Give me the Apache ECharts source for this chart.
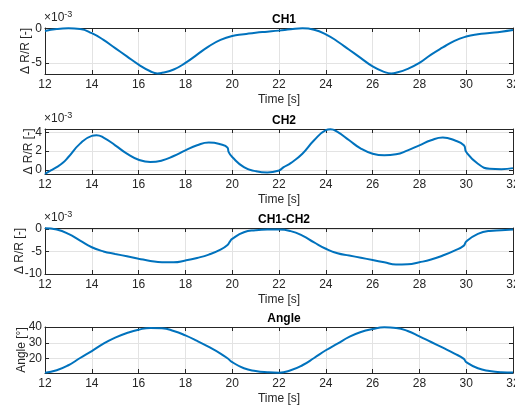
<!DOCTYPE html>
<html>
<head>
<meta charset="utf-8">
<script src="https://cdn.jsdelivr.net/npm/echarts@6/dist/echarts.min.js"></script>
<style>html,body{margin:0;padding:0;background:#fff}#c{width:515px;height:405px}</style>
</head>
<body>
<div id="c"></div>
<script>
// ---- data (values in units of 1e-3 for CH1/CH2/CH1-CH2, degrees for Angle) ----
const xTicks = [12, 14, 16, 18, 20, 22, 24, 26, 28, 30, 32];

const timeCH1 = [12,12.5,13,13.5,14,14.5,15,15.5,16,16.5,16.8,17,17.5,18,18.5,19,19.5,20,20.5,21,21.5,22,22.5,23,23.5,24,24.5,25,25.5,26,26.5,26.8,27,27.5,28,28.5,29,29.5,30,30.5,31,31.5,32];
const valuesCH1 = [-0.38,-0.1,0,-0.1,-0.7,-1.67,-2.86,-4.05,-5.24,-6.2,-6.52,-6.43,-5.95,-5.0,-3.8,-2.6,-1.67,-1.1,-0.86,-0.62,-0.48,-0.33,-0.14,0,-0.2,-0.86,-1.9,-3.1,-4.3,-5.5,-6.3,-6.52,-6.43,-5.86,-5.0,-3.8,-2.76,-1.8,-1.19,-0.86,-0.67,-0.48,-0.24];

const timeCH2 = [12,12.25,12.5,12.75,13,13.5,14,14.2,14.5,15,15.5,16,16.5,17,17.5,18,18.5,19,19.5,19.8,19.85,20,20.5,21,21.5,22,22.2,22.5,23,23.5,24,24.2,24.5,25,25.5,26,26.5,27,27.5,28,28.5,29,29.5,29.9,30,30.5,31,31.5,32];
const valuesCH2 = [-0.43,-0.07,0.29,0.72,1.37,2.81,3.64,3.71,3.46,2.63,1.73,1.08,0.83,1.0,1.48,2.09,2.63,2.92,2.74,2.38,1.9,1.37,0.29,-0.14,-0.29,-0.07,0.29,0.72,1.73,3.17,4.25,4.36,4.07,3.17,2.27,1.73,1.55,1.66,2.09,2.63,3.17,3.46,3.17,2.63,1.91,0.65,0.11,0.07,0.18];

const timeDiff = [12,12.5,13,13.5,14,14.5,15,15.5,16,16.5,17,17.5,18,18.5,19,19.5,19.8,19.9,20,20.5,21,21.5,22,22.5,23,23.5,24,24.5,25,25.5,26,26.5,27,27.5,28,28.5,29,29.5,29.9,30,30.5,31,31.5,32];
const valuesDiff = [0.15,-0.15,-1.1,-2.6,-4.07,-5.0,-5.55,-6.07,-6.6,-7.1,-7.4,-7.4,-7.0,-6.44,-5.7,-4.6,-3.55,-2.8,-2.2,-0.74,-0.3,-0.15,-0.15,-0.5,-1.5,-3.0,-4.4,-5.4,-5.9,-6.4,-6.9,-7.4,-7.9,-7.85,-7.4,-6.8,-5.9,-4.8,-3.7,-2.8,-1.1,-0.44,-0.3,-0.15];

const timeAngle = [12,12.5,13,13.5,14,14.5,15,15.5,16,16.5,17,17.5,18,18.5,19,19.5,19.8,20,20.5,21,21.5,22,22.5,23,23.5,24,24.5,25,25.5,26,26.5,27,27.5,28,28.5,29,29.5,29.9,30,30.5,31,31.5,32];
const valuesAngle = [11.0,12.6,15.8,20.4,24.8,29.5,33.3,36.2,38.3,39.4,39.2,37.5,34.7,31.2,27.4,23.2,20.2,17.8,13.9,12.2,11.4,11.1,12.6,15.8,20.4,25.3,29.5,33.7,36.8,38.7,39.8,39.4,37.5,34.1,30.5,26.9,23.2,19.8,17.8,13.9,12.2,11.4,11.2];

const panelTitles = ['CH1', 'CH2', 'CH1-CH2', 'Angle'];
const yNames = ['\u0394 R/R [-]', '\u0394 R/R [-]', '\u0394 R/R [-]', 'Angle [\u00b0]'];
const yTicks = [[-5, 0], [0, 2, 4], [-10, -5, 0], [20, 30, 40]];
const yRanges = [[-6.6, 0.05], [-0.45, 4.38], [-10, 0.2], [10.9, 40]];
const exponentLabel = '\u00d710{s|-3}';

// ---- layout ----
const grids = [
  {left: 45, width: 468, top: 28, height: 46, outerBoundsMode: 'none', containLabel: false},
  {left: 45, width: 468, top: 129, height: 45, outerBoundsMode: 'none', containLabel: false},
  {left: 45, width: 468, top: 228, height: 46, outerBoundsMode: 'none', containLabel: false},
  {left: 45, width: 468, top: 327, height: 46, outerBoundsMode: 'none', containLabel: false}
];
const nameGaps = [13, 10, 19, 17];
const FONT = '"Liberation Sans", Arial, sans-serif';
const AX = '#262626';
const GRIDC = '#e3e3e3';
const seriesData = [
  timeCH1.map((t, i) => [t, valuesCH1[i]]),
  timeCH2.map((t, i) => [t, valuesCH2[i]]),
  timeDiff.map((t, i) => [t, valuesDiff[i]]),
  timeAngle.map((t, i) => [t, valuesAngle[i]])
];

const xAxes = [], yAxes = [], series = [], titles = [], graphics = [];
grids.forEach((g, k) => {
  const xi = xAxes.length, yi = yAxes.length;
  xAxes.push({
    type: 'value', gridIndex: k, min: 12, max: 32, interval: 2, position: 'bottom',
    axisLine: {show: true, onZero: false, lineStyle: {color: AX, width: 1}},
    axisTick: {show: true, inside: true, length: 4, lineStyle: {color: AX}},
    axisLabel: {color: AX, fontSize: 12, fontFamily: FONT, margin: 5, customValues: xTicks},
    splitLine: {show: true, lineStyle: {color: GRIDC, width: 1}},
    name: 'Time [s]', nameLocation: 'middle', nameGap: 20, nameMoveOverlap: false,
    nameTextStyle: {color: AX, fontSize: 12, fontFamily: FONT}
  });
  xAxes.push({
    type: 'value', gridIndex: k, min: 12, max: 32, interval: 2, position: 'top',
    axisLine: {show: true, onZero: false, lineStyle: {color: AX, width: 1}},
    axisTick: {show: true, inside: true, length: 4, lineStyle: {color: AX}},
    axisLabel: {show: false}, splitLine: {show: false}
  });
  const [ymin, ymax] = yRanges[k];
  yAxes.push({
    type: 'value', gridIndex: k, min: ymin, max: ymax, position: 'left',
    axisLine: {show: true, onZero: false, lineStyle: {color: AX, width: 1}},
    axisTick: {show: true, inside: true, length: 4, lineStyle: {color: AX}, customValues: yTicks[k]},
    axisLabel: {color: AX, fontSize: 12, fontFamily: FONT, margin: 3, customValues: yTicks[k], showMinLabel: true, showMaxLabel: true},
    splitLine: {show: true, lineStyle: {color: GRIDC, width: 1}},
    name: yNames[k], nameLocation: 'middle', nameGap: nameGaps[k], nameRotate: 90, nameMoveOverlap: false,
    nameTextStyle: {color: AX, fontSize: 12, fontFamily: FONT}
  });
  yAxes.push({
    type: 'value', gridIndex: k, min: ymin, max: ymax, position: 'right',
    axisLine: {show: true, onZero: false, lineStyle: {color: AX, width: 1}},
    axisTick: {show: true, inside: true, length: 4, lineStyle: {color: AX}, customValues: yTicks[k]},
    axisLabel: {show: false}, splitLine: {show: false}
  });
  series.push({
    type: 'line', xAxisIndex: xi, yAxisIndex: yi, data: seriesData[k],
    showSymbol: false, smooth: 0.5,
    lineStyle: {color: '#0072BD', width: 2}, itemStyle: {color: '#0072BD'},
    clip: true, silent: true, z: 3
  });
  titles.push({
    text: panelTitles[k], left: g.left + g.width / 2, top: g.top - 19, textAlign: 'center',
    textStyle: {fontSize: 12, fontWeight: 'bold', color: '#000', fontFamily: FONT}
  });
  if (k < 3) {
    graphics.push({
      type: 'text', left: g.left - 1, top: g.top - 18,
      style: {
        text: exponentLabel, fill: AX, font: '12px ' + FONT,
        rich: {s: {fontSize: 9, fill: AX, verticalAlign: 'top', padding: [0, 0, 6, 0], fontFamily: FONT}}
      }
    });
  }
});

const chart = echarts.init(document.getElementById('c'), null, {renderer: 'canvas'});
chart.setOption({
  animation: false,
  backgroundColor: '#fff',
  title: titles,
  grid: grids,
  xAxis: xAxes,
  yAxis: yAxes,
  series: series,
  graphic: graphics
});
</script>
</body>
</html>
